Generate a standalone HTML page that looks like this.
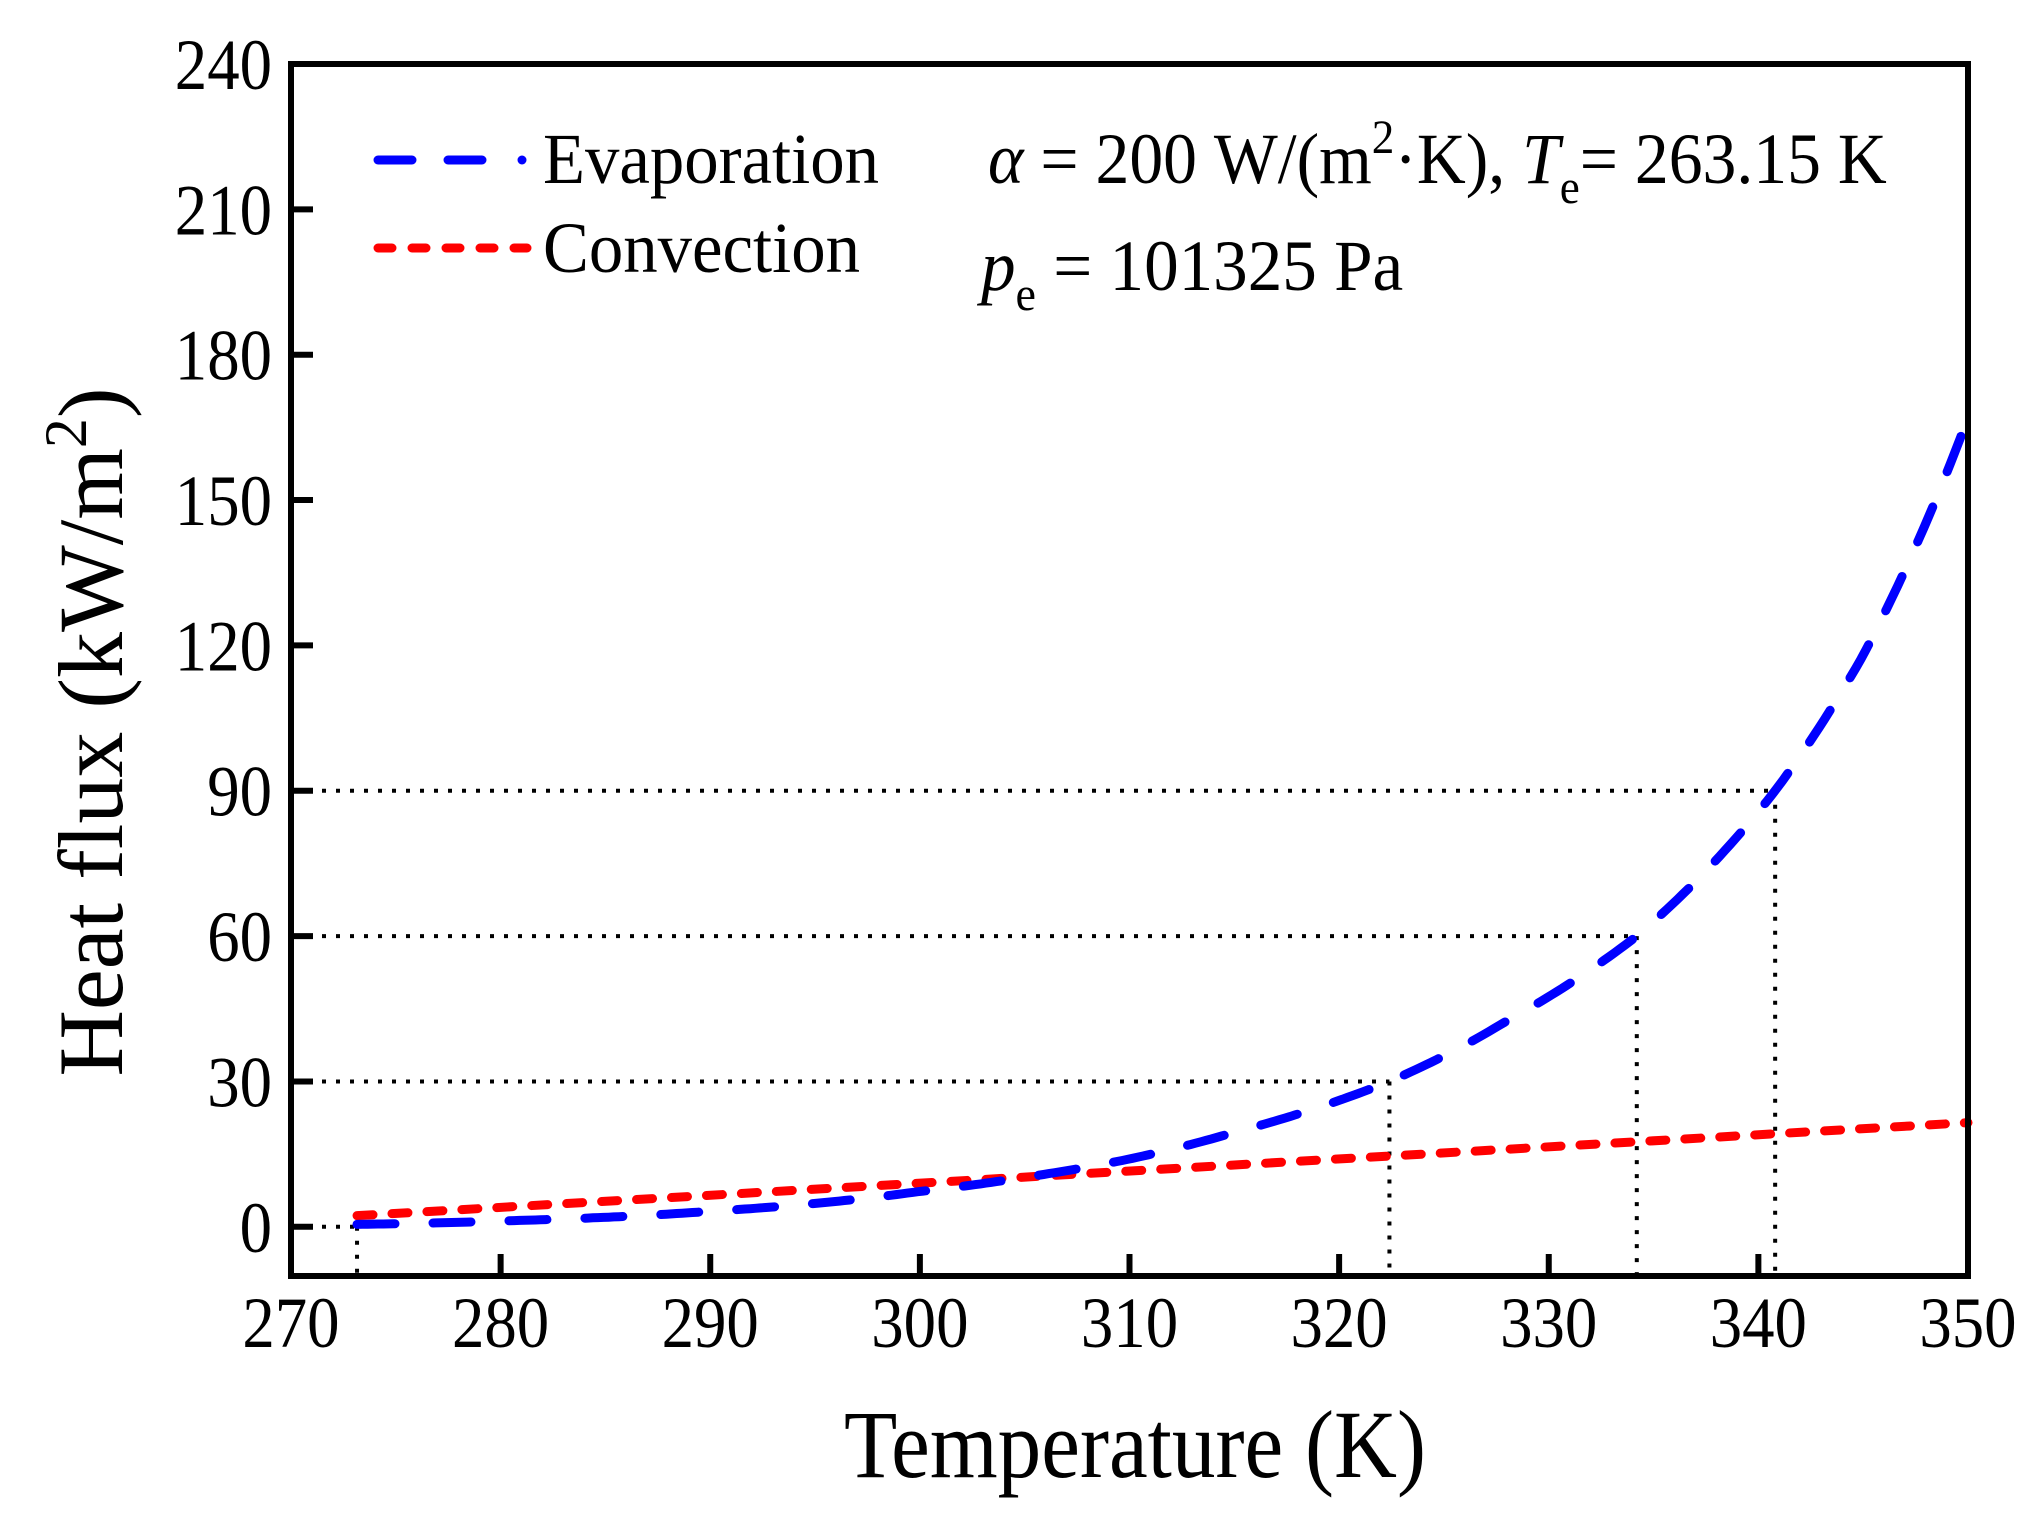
<!DOCTYPE html>
<html><head><meta charset="utf-8"><style>
html,body{margin:0;padding:0;background:#fff;}
svg{display:block;}
text{font-family:"Liberation Serif",serif;fill:#000;}
</style></head><body>
<svg id="s" width="2041" height="1516" viewBox="0 0 2041 1516" xmlns="http://www.w3.org/2000/svg">
<g id="dots" stroke="#000" stroke-width="4" stroke-dasharray="4 10" fill="none"></g>
<path id="red" fill="none" stroke="#ff0000" stroke-width="9" stroke-linecap="round" stroke-dasharray="16 19"/>
<path id="blue" fill="none" stroke="#0000ff" stroke-width="9" stroke-linecap="round" stroke-dasharray="38 38"/>
<rect x="291" y="64" width="1677" height="1212" fill="none" stroke="#000" stroke-width="6"/>
<g id="ticks" stroke="#000" stroke-width="6"></g>
<g id="labels" font-size="72"></g>
<!-- legend -->
<line x1="378" y1="160" x2="483" y2="160" stroke="#0000ff" stroke-width="9" stroke-linecap="round" stroke-dasharray="34 36"/>
<line x1="522" y1="160" x2="522" y2="160" stroke="#0000ff" stroke-width="9" stroke-linecap="round"/>
<text x="543" y="183" font-size="72" textLength="336" lengthAdjust="spacingAndGlyphs">Evaporation</text>
<line x1="378" y1="248" x2="527" y2="248" stroke="#ff0000" stroke-width="9" stroke-linecap="round" stroke-dasharray="14 20"/>
<text x="543" y="272" font-size="72" textLength="317" lengthAdjust="spacingAndGlyphs">Convection</text>
<!-- annotation -->
<g transform="translate(988,0) scale(0.94,1) translate(-988,0)">
<text x="988" y="183" font-size="72"><tspan font-style="italic">α</tspan> = 200 W/(m<tspan dy="-30" font-size="48">2</tspan><tspan dy="30">·K), </tspan><tspan font-style="italic">T</tspan><tspan dy="20" font-size="48">e</tspan><tspan dy="-20">= 263.15 K</tspan></text>
</g>
<g transform="translate(981,0) scale(0.96,1) translate(-981,0)">
<text x="981" y="290" font-size="72"><tspan font-style="italic">p</tspan><tspan dy="20" font-size="48">e</tspan><tspan dy="-20"> = 101325 Pa</tspan></text>
</g>
<text x="1135" y="1477" font-size="96" text-anchor="middle" textLength="582" lengthAdjust="spacingAndGlyphs">Temperature (K)</text>
<text transform="translate(122,732) rotate(-90)" font-size="92" text-anchor="middle">Heat flux (kW/m<tspan dy="-36" font-size="60">2</tspan><tspan dy="36">)</tspan></text>
</svg>
<script>
var X=function(t){return 291+(t-270)*20.9625;};
var Y=function(v){return 64+(240-v)*4.845;};
var ns="http://www.w3.org/2000/svg";
function el(p,n,a,txt){var e=document.createElementNS(ns,n);for(var k in a)e.setAttribute(k,a[k]);if(txt!=null)e.textContent=txt;document.getElementById(p).appendChild(e);return e;}
for(var t=280;t<=340;t+=10){el("ticks","line",{x1:X(t),y1:1276,x2:X(t),y2:1254});}
for(var v=0;v<=210;v+=30){el("ticks","line",{x1:291,y1:Y(v),x2:313,y2:Y(v)});}
for(var t=270;t<=350;t+=10){var x=X(t);el("labels","text",{x:x,y:1347,"text-anchor":"middle",transform:"translate("+x+",0) scale(0.9,1) translate("+(-x)+",0)"},""+t);}
for(var v=0;v<=240;v+=30){el("labels","text",{x:272,y:Y(v)+25,"text-anchor":"end",transform:"translate(272,0) scale(0.9,1) translate(-272,0)"},""+v);}
var g=[[273.15,0],[322.4,30],[334.2,60],[340.8,90]];
g.forEach(function(p){el("dots","line",{x1:294,y1:Y(p[1]),x2:X(p[0]),y2:Y(p[1])});el("dots","line",{x1:X(p[0]),y1:Y(p[1]),x2:X(p[0]),y2:1273});});
var P=[[273.15,0.5],[280,1.2],[290,3.2],[300,7.3],[305,10.2],[310,14],[315,19.5],[322.4,30],[328,42.5],[334.2,60],[340.8,90],[345,118],[350,167]];
function q(t){for(var i=0;i<P.length-1;i++){if(t<=P[i+1][0]){var a=P[i],b=P[i+1],f=(t-a[0])/(b[0]-a[0]);return Math.exp(Math.log(a[1])+f*(Math.log(b[1])-Math.log(a[1])));}}return P[P.length-1][1];}
var d="";for(var t=273.15;t<=350.001;t+=0.25){d+=(d?"L":"M")+X(t).toFixed(1)+" "+Y(q(t)).toFixed(1);}
document.getElementById("blue").setAttribute("d",d);
document.getElementById("red").setAttribute("d","M"+X(273.15)+" "+Y(2.3)+"L"+X(350)+" "+Y(21.5));
</script>
</body></html>
